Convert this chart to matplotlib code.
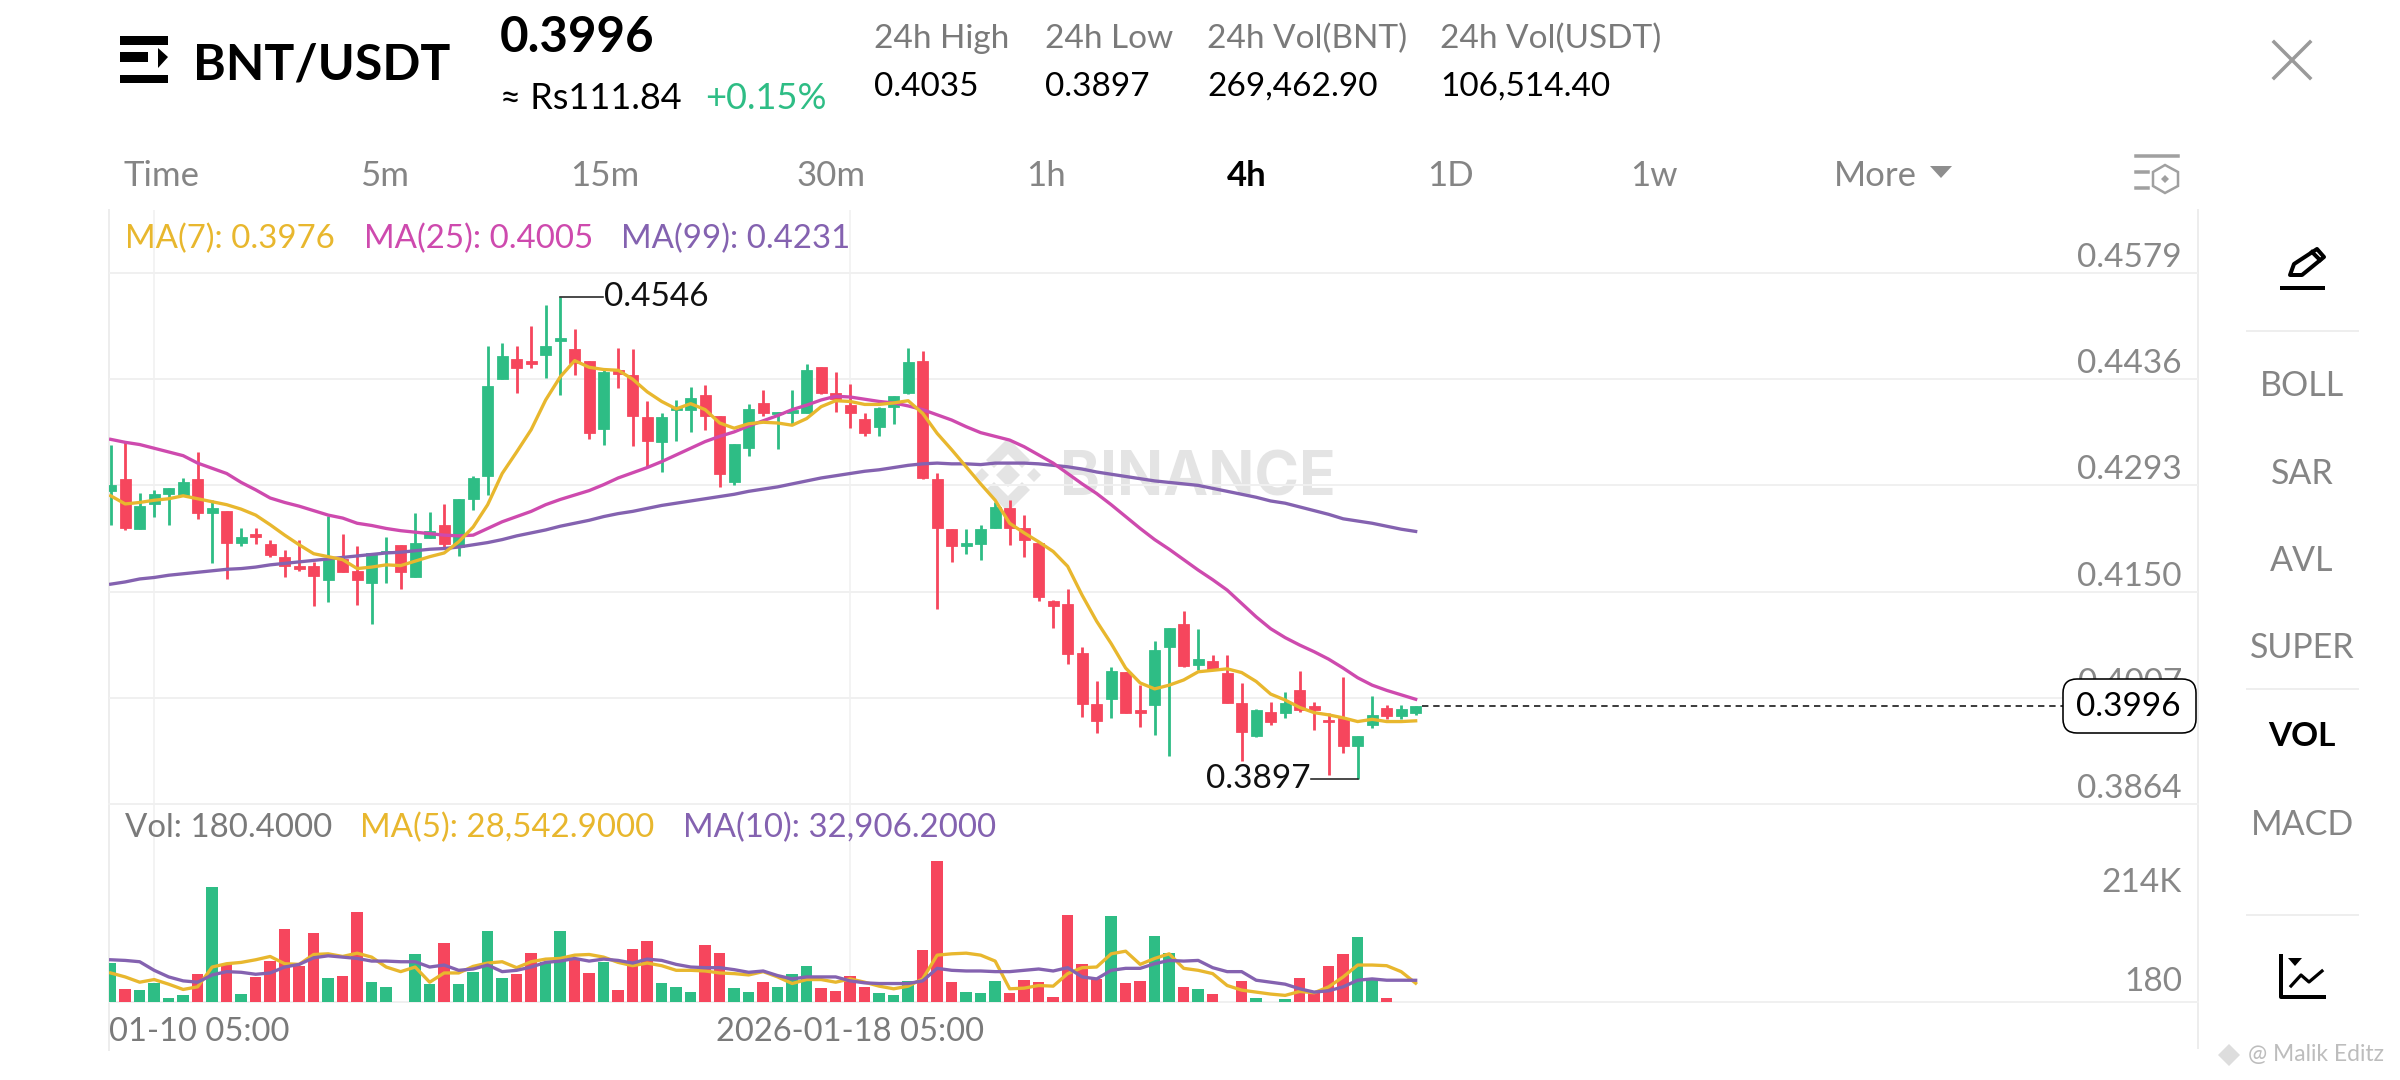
import matplotlib
matplotlib.use("Agg")
import matplotlib.pyplot as plt
from matplotlib.patches import Polygon, FancyBboxPatch
from matplotlib.transforms import ScaledTranslation
import numpy as np

# ---------- data ----------
opens = [.4285,.4301,.4234,.4268,.4281,.4280,.4301,.4256,.4259,.4215,.4228,.4214,.4197,.4184,.4185,.4165,.4194,.4178,.4161,.4202,.4213,.4169,.4222,.4239,.4210,.4275,.4305,.4436,.4463,.4461,.4469,.4487,.4477,.4461,.4369,.4449,.4441,.4385,.4352,.4394,.4394,.4415,.4387,.4298,.4344,.4404,.4389,.4390,.4390,.4452,.4418,.4401,.4383,.4372,.4398,.4418,.4460,.4302,.4234,.4211,.4214,.4235,.4263,.4235,.4216,.4138,.4133,.4067,.3999,.4006,.4042,.3990,.3997,.4076,.4107,.4051,.4057,.4041,.4000,.3956,.3988,.3986,.4018,.3996,.3977,.3980,.3942,.3970,.3993,.3982,.3986]
highs = [.4347,.4352,.4283,.4287,.4289,.4303,.4338,.4273,.4259,.4235,.4235,.4220,.4206,.4219,.4190,.4252,.4228,.4212,.4202,.4223,.4213,.4256,.4257,.4268,.4274,.4305,.4481,.4485,.4481,.4508,.4536,.4546,.4504,.4461,.4451,.4478,.4477,.4406,.4390,.4408,.4426,.4428,.4387,.4349,.4403,.4421,.4392,.4422,.4457,.4452,.4445,.4430,.4391,.4398,.4413,.4478,.4474,.4309,.4234,.4234,.4240,.4271,.4273,.4253,.4217,.4139,.4154,.4075,.4030,.4049,.4042,.4024,.4084,.4101,.4124,.4100,.4065,.4064,.4027,.3992,.4001,.4015,.4043,.4001,.3986,.4035,.3956,.4009,.3997,.3997,.3996]
lows = [.4240,.4233,.4234,.4250,.4240,.4279,.4248,.4188,.4167,.4211,.4214,.4197,.4170,.4178,.4131,.4136,.4177,.4132,.4106,.4161,.4153,.4169,.4222,.4208,.4198,.4260,.4280,.4436,.4418,.4451,.4437,.4415,.4442,.4356,.4347,.4424,.4346,.4318,.4311,.4353,.4365,.4368,.4291,.4294,.4332,.4386,.4342,.4374,.4390,.4416,.4392,.4370,.4359,.4360,.4376,.4416,.4301,.4126,.4190,.4200,.4193,.4235,.4213,.4196,.4138,.4101,.4053,.3981,.3960,.3980,.3986,.3968,.3957,.3929,.4048,.4045,.4044,.4000,.3922,.3954,.3970,.3980,.3988,.3964,.3903,.3932,.3897,.3966,.3979,.3979,.3984]
closes = [.4294,.4235,.4265,.4281,.4289,.4298,.4256,.4263,.4215,.4224,.4223,.4199,.4185,.4180,.4171,.4194,.4177,.4165,.4202,.4204,.4176,.4215,.4232,.4214,.4274,.4303,.4427,.4467,.4451,.4456,.4481,.4491,.4458,.4363,.4446,.4443,.4387,.4353,.4385,.4397,.4410,.4387,.4308,.4349,.4396,.4391,.4392,.4394,.4448,.4418,.4409,.4391,.4364,.4397,.4413,.4459,.4303,.4235,.4211,.4215,.4234,.4264,.4235,.4219,.4143,.4130,.4066,.3998,.3976,.4043,.3986,.3987,.4072,.4101,.4050,.4059,.4045,.4000,.3961,.3991,.3974,.4000,.3991,.3990,.3974,.3942,.3956,.3984,.3983,.3992,.3996]
ma7 = [.4279,.4268,.4270,.4273,.4275,.4279,.4275,.4271,.4267,.4261,.4253,.4240,.4226,.4213,.4201,.4197,.4193,.4181,.4183,.4186,.4185,.4191,.4197,.4202,.4217,.4237,.4267,.4309,.4338,.4368,.4408,.4439,.4461,.4452,.4449,.4448,.4436,.4419,.4406,.4396,.4403,.4395,.4377,.4370,.4376,.4378,.4377,.4374,.4383,.4399,.4407,.4406,.4402,.4402,.4404,.4407,.4390,.4363,.4341,.4318,.4295,.4273,.4242,.4229,.4217,.4204,.4184,.4145,.4110,.4080,.4047,.4027,.4019,.4024,.4031,.4042,.4044,.4046,.4041,.4029,.4012,.4004,.3994,.3987,.3984,.3980,.3975,.3978,.3975,.3975,.3976]
ma25 = [.4355,.4351,.4348,.4343,.4338,.4333,.4323,.4316,.4309,.4297,.4287,.4276,.4270,.4265,.4259,.4253,.4249,.4242,.4239,.4235,.4232,.4230,.4228,.4226,.4225,.4226,.4235,.4244,.4251,.4258,.4267,.4274,.4280,.4286,.4294,.4303,.4310,.4317,.4325,.4334,.4343,.4352,.4359,.4365,.4373,.4380,.4387,.4395,.4401,.4408,.4413,.4412,.4409,.4406,.4404,.4400,.4395,.4388,.4381,.4372,.4364,.4359,.4354,.4345,.4334,.4323,.4309,.4295,.4282,.4267,.4251,.4235,.4220,.4207,.4193,.4179,.4166,.4152,.4134,.4116,.4100,.4088,.4078,.4069,.4059,.4047,.4034,.4024,.4017,.4011,.4005]
ma99 = [.4160,.4163,.4167,.4169,.4172,.4174,.4176,.4178,.4180,.4181,.4183,.4186,.4188,.4190,.4192,.4194,.4196,.4198,.4200,.4202,.4203,.4205,.4207,.4208,.4210,.4213,.4216,.4220,.4225,.4229,.4233,.4238,.4242,.4246,.4251,.4255,.4258,.4262,.4266,.4269,.4272,.4275,.4278,.4281,.4285,.4288,.4291,.4295,.4299,.4303,.4306,.4309,.4312,.4314,.4317,.4320,.4322,.4323,.4322,.4322,.4321,.4323,.4323,.4323,.4322,.4320,.4318,.4315,.4311,.4308,.4305,.4302,.4299,.4297,.4295,.4293,.4289,.4285,.4281,.4277,.4272,.4269,.4264,.4259,.4254,.4248,.4245,.4242,.4238,.4234,.4231]
volume_k = [59,20,18,29,6.6,11,42,174,58,12,38,62,110,55,104,36,40,137,31,22,0,72,27,90,28,45,108,37,42,75,61,108,64,44,60,18,80,92,29,22,15,86,74,21,15,30,22,42,54,21,16,39,23,14,11,32,79,214,30,15,14,32,14,33,31,7.6,132,57,35,131,29,32,100,75,22,19,12,0,32,5.6,0,4.6,37,15,55,72,99,33,6.1,0,0.18]
vol_ma5_k = [44,38,30,34,27,19,23,53,58,60,64,69,58,57,72,73,69,74,68,53,46,53,30,44,44,54,59,61,52,61,65,66,71,72,68,60,55,59,55,48,48,47,44,43,41,46,38,28,34,34,30,35,30,24,20,24,35,71,73,74,71,62,20,21,25,24,43,52,53,73,77,57,66,73,51,48,43,25,18,15,12,10,16,14,23,38,56,56,55,46,28.5]
vol_ma10_k = [64,63,61,48,38,32,30,41,46,45,42,44,53,57,67,70,68,66,62,62,61,61,53,56,48,50,56,46,48,53,60,62,66,62,65,63,59,65,63,57,53,52,52,49,45,47,40,35,38,38,38,32,29,28,28,28,32,51,48,47,47,46,46,48,50,47,52,38,35,48,51,51,58,63,62,63,52,46,46,33,30,27,20,15,17,23,33,35,33,33,32.9]
price_ticks = [.4579,.4436,.4293,.4150,.4007,.3864]
volume_ticks = [0.18, 214]
volume_tick_labels = ["180", "214K"]
date_positions = [3, 51]
date_labels = ["01-10 05:00", "2026-01-18 05:00"]
timeframes = ["Time","5m","15m","30m","1h","4h","1D","1w"]
indicators = ["BOLL","SAR","AVL","SUPER","VOL","MACD"]

# ---------- style ----------
GREEN, RED = "#2EBD85", "#F6465D"
YEL, PINK, PUR = "#E8B72E", "#CE4AAE", "#8462B0"
GREY, GRID = "#7A7A7A", "#F0F0F0"
FONT = "Lato"
plt.rcParams["font.family"] = [FONT, "DejaVu Sans"]
W, H = 2400, 1080
DPI = 100
px = 72 / DPI

fig = plt.figure(figsize=(W / DPI, H / DPI), dpi=DPI, facecolor="white")

def rect(l, t, r, b):
    return [l / W, 1 - b / H, (r - l) / W, (b - t) / H]

def px_axes(z):
    a = fig.add_axes([0, 0, 1, 1], zorder=z)
    a.set_xlim(0, W); a.set_ylim(H, 0); a.axis("off"); a.patch.set_alpha(0)
    return a

bg = px_axes(0)
fg = px_axes(10)

n = len(closes)
xs = np.arange(n)
PL, PR = 109.0, 2198.0
x0, dx = 110.67, 14.5
xlim = ((PL - x0) / dx, (PR - x0) / dx)

# ---------- price panel ----------
ax = fig.add_axes(rect(PL, 210, PR, 804), zorder=2)
ax.patch.set_alpha(0)
scale = 7427.0
ax.set_xlim(*xlim)
ax.set_ylim(.3864, .3864 + 594 / scale)
up = [c >= o for o, c in zip(opens, closes)]
cols = [GREEN if u else RED for u in up]
ax.vlines(xs, lows, highs, colors=cols, linewidth=2.8 * px, zorder=3)
ax.bar(xs, [max(abs(c - o), 1e-5) for o, c in zip(opens, closes)],
       bottom=[min(o, c) for o, c in zip(opens, closes)], width=0.78,
       color=cols, linewidth=0.8 * px, edgecolor=cols, zorder=4)
LW = 3.3 * px
ax.plot(xs, ma99, color=PUR, lw=LW, zorder=5, solid_joinstyle="round")
ax.plot(xs, ma25, color=PINK, lw=LW, zorder=6, solid_joinstyle="round")
ax.plot(xs, ma7, color=YEL, lw=LW, zorder=7, solid_joinstyle="round")

# ---------- volume panel ----------
av = fig.add_axes(rect(PL, 804, PR, 1002), zorder=2)
av.patch.set_alpha(0)
av.set_xlim(*xlim)
av.set_ylim(0, 300)
av.bar(xs, volume_k, width=0.8, color=cols, zorder=3)
av.plot(xs, vol_ma5_k, color=YEL, lw=LW, zorder=4, solid_joinstyle="round")
av.plot(xs, vol_ma10_k, color=PUR, lw=LW, zorder=5, solid_joinstyle="round")

for a in (ax, av):
    for s in ("top", "left", "right"):
        a.spines[s].set_visible(False)
    a.spines["bottom"].set_color(GRID)
    a.spines["bottom"].set_linewidth(2 * px)
    a.yaxis.tick_right()
    a.tick_params(axis="both", length=0, colors="#888888", labelsize=24)

ax.set_yticks(price_ticks, [f"{v:.4f}" for v in price_ticks])
ax.grid(axis="y", color=GRID, lw=2 * px, zorder=0)
ax.set_xticks(date_positions, [])
ax.grid(axis="x", color=GRID, lw=1.5 * px, zorder=0)
av.set_yticks(volume_ticks, volume_tick_labels)
av.set_xticks(date_positions, date_labels)
av.grid(axis="x", color=GRID, lw=1.5 * px, zorder=0)
av.tick_params(axis="x", labelsize=23.5, pad=15 * px, labelcolor=GREY)
ax.tick_params(axis="y", pad=-16 * px)
av.tick_params(axis="y", pad=-16 * px)

def shift(lab, dxp, dyp):
    lab.set_transform(lab.get_transform() + ScaledTranslation(dxp / DPI, dyp / DPI, fig.dpi_scale_trans))

for lab in ax.get_yticklabels():
    lab.set_ha("right"); lab.set_va("center"); shift(lab, 0, 15)
vlabs = av.get_yticklabels()
for lab, dy in zip(vlabs, (20, -22)):
    lab.set_ha("right"); lab.set_va("center"); shift(lab, 0, dy)
shift(av.get_xticklabels()[0], 45, 0)

# high / low markers and last price line
hi_i = int(np.argmax(highs)); lo_i = int(np.argmin(lows))
ax.plot([hi_i, hi_i + 2.95], [highs[hi_i]] * 2, color="#222222", lw=1.6 * px, zorder=8)
hi_txt = ax.annotate(f"{highs[hi_i]:.4f}", (hi_i + 3.0, highs[hi_i]), va="center", ha="left", fontsize=24, color="#111111", zorder=9)
ax.plot([lo_i, lo_i - 3.2], [lows[lo_i] + .00002] * 2, color="#222222", lw=1.6 * px, zorder=8)
lo_txt = ax.annotate(f"{lows[lo_i]:.4f}", (lo_i - 3.25, lows[lo_i]), va="center", ha="right", fontsize=24, color="#111111", zorder=9)
ax.plot([n - 1 + .45, (2063 - x0) / dx], [closes[-1]] * 2, color="#111111", lw=1.6 * px, ls=(0, (4, 3)), zorder=8)

# ---------- frame lines ----------
for xp, top, b in ((PL, 210, 1050), (PR, 210, 1048)):
    bg.plot([xp, xp], [top, b], color="#EDEDED", lw=2 * px)

# ---------- watermark ----------
wm = "#E4E4E4"
bg.text(1060, 495, "BINANCE", fontsize=43.5, fontweight="bold", color=wm, ha="left", va="baseline", family="Inter")
cx, cy = 1008, 475
def diamond(a, x, y, r, col):
    a.add_patch(Polygon([(x, y - r), (x + r, y), (x, y + r), (x - r, y)], closed=True, fc=col, ec="none"))
diamond(bg, cx, cy, 12, wm)
diamond(bg, cx - 26, cy, 7, wm); diamond(bg, cx + 26, cy, 7, wm)
for sgn in (-1, 1):
    bg.add_patch(Polygon([(cx, cy + sgn * 37), (cx + 22, cy + sgn * 15), (cx + 14, cy + sgn * 7), (cx, cy + sgn * 21), (cx - 14, cy + sgn * 7), (cx - 22, cy + sgn * 15)], closed=True, fc=wm, ec="none"))

# ---------- header ----------
def t(x, y, s, size, color="#000000", ha="left", weight="normal", a=fg):
    return a.text(x, y, s, fontsize=size, color=color, ha=ha, va="baseline", fontweight=weight)

for top, h, w in ((36, 9, 48), (75, 8, 48)):
    fg.fill_between([120, 120 + w], top, top + h, color="black", lw=0)
fg.fill_between([120, 148], 52, 62, color="black", lw=0)
fg.add_patch(Polygon([(158, 48), (168, 57), (158, 68)], closed=True, fc="black", ec="none"))

t(193, 79, "BNT/USDT", 36, weight="bold")
t(500, 52, "0.3996", 35.5, weight="bold")
t(500, 109, "≈ Rs111.84", 26)
t(705, 109, "+0.15%", 26, GREEN)
for x, lab, val in ((874, "24h High", "0.4035"), (1045, "24h Low", "0.3897"), (1207, "24h Vol(BNT)", "269,462.90"), (1440, "24h Vol(USDT)", "106,514.40")):
    t(x, 48, lab, 24, GREY)
    t(x, 96, val, 24)

tab_x = [162, 385, 605, 831, 1046, 1247, 1450, 1654]
for x, s in zip(tab_x, timeframes):
    if s == "4h":
        t(x, 186, s, 25, "#000000", "center", "bold")
    else:
        t(x, 186, s, 25, "#858585", "center")
t(1834, 186, "More", 25, "#858585")
fg.add_patch(Polygon([(1930, 166), (1952, 166), (1941, 178)], closed=True, fc="#8E8E8E", ec="none"))

# settings icon
ic = "#A0A0A0"
fg.plot([2136, 2178], [156, 156], color=ic, lw=3.5 * px)
fg.plot([2136, 2148], [172, 172], color=ic, lw=3.5 * px)
fg.plot([2136, 2148], [188, 188], color=ic, lw=3.5 * px)
fg.add_patch(Polygon([(2165, 165), (2178, 172), (2178, 186), (2165, 193), (2153, 186), (2153, 172)], closed=True, fc="none", ec=ic, lw=2.5 * px))
diamond(fg, 2165, 179, 4, ic)
# close icon
fg.plot([2274, 2310], [42, 78], color="#9A9A9A", lw=3.5 * px)
fg.plot([2274, 2310], [78, 42], color="#9A9A9A", lw=3.5 * px)

# ---------- indicator legends ----------
for x, s, c in ((125, "MA(7): 0.3976", YEL), (364, "MA(25): 0.4005", PINK), (621, "MA(99): 0.4231", PUR)):
    t(x, 248, s, 23.8, c)
for x, s, c in ((125, "Vol: 180.4000", GREY), (360, "MA(5): 28,542.9000", YEL), (683, "MA(10): 32,906.2000", PUR)):
    t(x, 837, s, 23.8, c)

# ---------- last price box ----------
box = FancyBboxPatch((2069, 685), 121, 42, boxstyle="round,pad=6,rounding_size=14", fc="white", ec="black", lw=1.6 * px)
fg.add_patch(box)
fg.text(2181, 707, f"{closes[-1]:.4f}", fontsize=24, color="black", ha="right", va="center")

# ---------- side bar ----------
for y in (331, 689, 915):
    fg.plot([2247, 2358], [y, y], color="#EEEEEE", lw=2 * px)
ys = [386, 474, 561, 648, 737, 825]
for y, s in zip(ys, indicators):
    if s == "VOL":
        fg.text(2302, y, s, fontsize=24, color="black", ha="center", va="center", fontweight="bold")
    else:
        fg.text(2302, y, s, fontsize=24.5, color="#858585", ha="center", va="center")

# pencil
fg.add_patch(Polygon([(2290, 275), (2294, 264), (2317, 249), (2324, 257), (2302, 275)], closed=True, fc="none", ec="black", lw=4 * px, joinstyle="round"))
fg.plot([2312, 2320], [252, 260], color="black", lw=4 * px)
fg.plot([2282, 2314], [288, 288], color="black", lw=4 * px)
fg.plot([2317, 2323], [288, 288], color="black", lw=4 * px)
# chart icon
fg.plot([2281, 2281, 2324], [956, 997, 997], color="black", lw=4 * px)
fg.plot([2291, 2301, 2309, 2322], [986, 975, 982, 971], color="black", lw=3.2 * px)
fg.add_patch(Polygon([(2288, 958), (2302, 958), (2295, 966)], closed=True, fc="black", ec="none"))

# watermark bottom right
diamond(fg, 2229, 1055, 11, "#DDDDDD")
fg.text(2248, 1055, "@ Malik Editz", fontsize=16.5, color="#BDBDBD", ha="left", va="center")

fig.savefig("out.png", dpi=DPI, facecolor="white")
